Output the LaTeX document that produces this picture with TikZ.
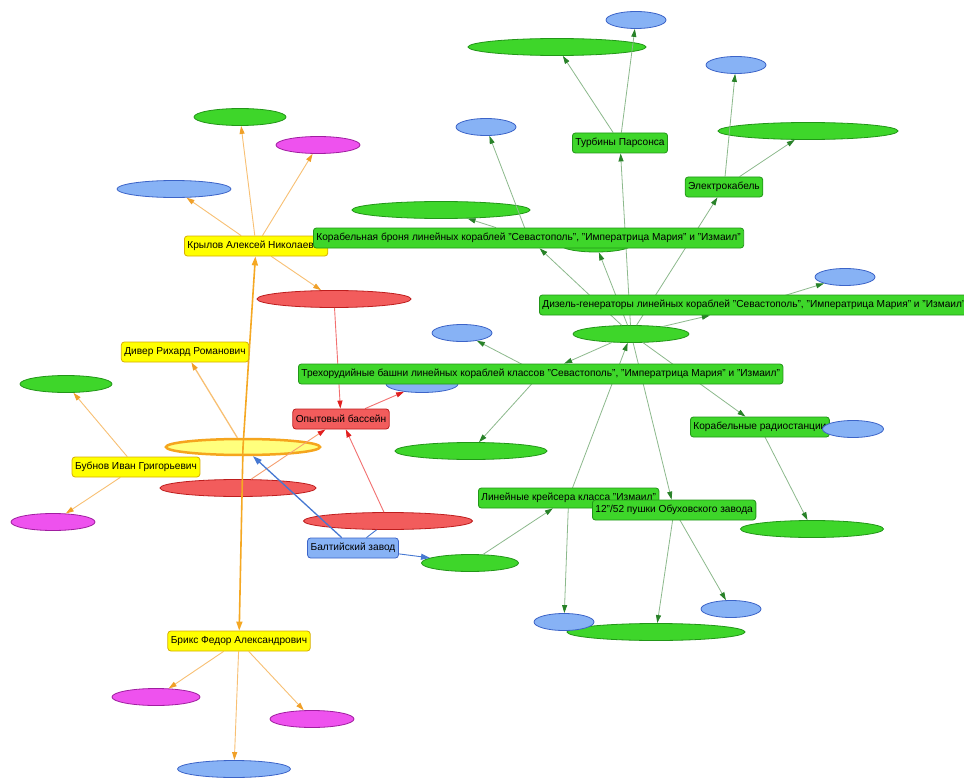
\documentclass[tikz,border=0pt]{standalone}
\usepackage{fontspec}
\setmainfont{Liberation Sans}
\usetikzlibrary{shapes.geometric,arrows.meta}
\pgfdeclarelayer{bg}
\pgfdeclarelayer{edges}
\pgfdeclarelayer{top}
\pgfsetlayers{bg,edges,main,top}
\definecolor{gfill}{RGB}{62,214,42}
\definecolor{gdraw}{RGB}{34,150,24}
\definecolor{bfill}{RGB}{135,178,245}
\definecolor{bdraw}{RGB}{60,100,200}
\definecolor{mfill}{RGB}{238,82,238}
\definecolor{mdraw}{RGB}{160,30,160}
\definecolor{rfill}{RGB}{242,92,92}
\definecolor{rdraw}{RGB}{190,30,30}
\definecolor{yfill}{RGB}{255,255,0}
\definecolor{ydraw}{RGB}{215,175,0}
\definecolor{ylfill}{RGB}{255,255,125}
\definecolor{ylborder}{RGB}{245,165,30}
\definecolor{gedge}{RGB}{140,185,140}
\definecolor{garrow}{RGB}{40,130,40}
\definecolor{oedge}{RGB}{248,192,115}
\definecolor{oarrow}{RGB}{240,160,40}
\definecolor{othick}{RGB}{245,168,35}
\definecolor{redge}{RGB}{242,112,112}
\definecolor{rarrow}{RGB}{225,30,30}
\definecolor{bedge}{RGB}{70,120,210}
\tikzset{
  ell/.style={ellipse, draw, line width=0.8pt, inner sep=0pt, minimum height=17pt},
  gell/.style={ell, fill=gfill, draw=gdraw},
  bell/.style={ell, fill=bfill, draw=bdraw},
  mell/.style={ell, fill=mfill, draw=mdraw},
  rell/.style={ell, fill=rfill, draw=rdraw},
  yell/.style={ell, fill=ylfill, draw=ylborder, line width=2.5pt, minimum height=16pt},
  lab/.style={rounded corners=3pt, draw, line width=0.8pt, inner xsep=3pt, inner ysep=0pt,
              minimum height=20pt, font=\fontsize{10.15}{12}\selectfont, text=black},
  glab/.style={lab, fill=gfill, draw=gdraw},
  ylab/.style={lab, fill=yfill, draw=ydraw},
  rlab/.style={lab, fill=rfill, draw=rdraw},
  blab/.style={lab, fill=bfill, draw=bdraw},
  ge/.style={draw=gedge, line width=0.8pt, -{Triangle[length=8pt,width=5pt,color=garrow]}},
  oe/.style={draw=oedge, line width=0.9pt, -{Triangle[length=8pt,width=5pt,color=oarrow]}},
  ote/.style={draw=othick, line width=1.6pt, -{Triangle[length=9pt,width=6pt,color=othick]}},
  re/.style={draw=redge, line width=0.9pt, -{Triangle[length=8pt,width=5pt,color=rarrow]}},
  be/.style={draw=bedge, line width=1.3pt, -{Triangle[length=9pt,width=6pt,color=bedge]}},
}
\begin{document}
\begin{tikzpicture}[x=1pt,y=-1pt]
\useasboundingbox (0,0) rectangle (964,781);
\begin{pgfonlayer}{bg}
  \fill[white] (0,0) rectangle (964,781);
  \node[gell, minimum width=178pt] (g1) at (557,47) {};
  \node[gell, minimum width=180pt] (g2) at (808,131) {};
  \node[gell, minimum width=178pt] (g3) at (441,210) {};
  \node[gell, minimum width=116pt] (hub) at (631,334) {};
  \node[gell, minimum width=152pt] (g5) at (471,451) {};
  \node[gell, minimum width=97pt] (g6) at (470,563) {};
  \node[gell, minimum width=143pt] (g7) at (812,529) {};
  \node[gell, minimum width=178pt] (g8) at (656,632) {};
  \node[gell, minimum width=92pt] (g9) at (66,384) {};
  \node[gell, minimum width=92pt] (g10) at (240,117) {};
  \node[gell, minimum width=70pt, minimum height=14pt] (gh) at (596,245) {};
  \node[bell, minimum width=60pt] (b1) at (636,20) {};
  \node[bell, minimum width=60pt] (b2) at (736,65) {};
  \node[bell, minimum width=60pt] (b3) at (486,127) {};
  \node[bell, minimum width=60pt] (b4) at (845,277) {};
  \node[bell, minimum width=60pt] (b5) at (462,333) {};
  \node[bell, minimum width=72pt] (b6) at (422,384) {};
  \node[bell, minimum width=60pt] (b8) at (564,622) {};
  \node[bell, minimum width=60pt] (b9) at (731,609) {};
  \node[bell, minimum width=114pt] (b10) at (174,189) {};
  \node[bell, minimum width=113pt] (b11) at (234,769) {};
  \node[mell, minimum width=84pt] (m1) at (318,145) {};
  \node[mell, minimum width=84pt] (m2) at (53,522) {};
  \node[mell, minimum width=88pt] (m3) at (156,697) {};
  \node[mell, minimum width=84pt] (m4) at (312,719) {};
  \node[rell, minimum width=154pt] (r1) at (334,299) {};
  \node[rell, minimum width=156pt] (r2) at (238,488) {};
  \node[rell, minimum width=169pt] (r3) at (388,521) {};
  \node[yell, minimum width=154pt] (y1) at (243,447) {};
\end{pgfonlayer}

% labels
\node[ylab, anchor=west] (kr) at (184,246) {Крылов Алексей Николаевич};
\node[glab, anchor=west] (br) at (313,238) {Корабельная броня линейных кораблей "Севастополь", "Императрица Мария" и "Измаил"};
\node[glab, anchor=west] (diz) at (539,305) {Дизель-генераторы линейных кораблей "Севастополь", "Императрица Мария" и "Измаил"};
\node[glab] (turb) at (620,143) {Турбины Парсонса};
\node[glab] (elk) at (724,187) {Электрокабель};
\node[glab, anchor=west] (tri) at (298,374) {Трехорудийные башни линейных кораблей классов "Севастополь", "Императрица Мария" и "Измаил"};
\node[glab, anchor=west] (rad) at (690,427) {Корабельные радиостанции};
\node[glab, anchor=west] (lin) at (478,498) {Линейные крейсера класса "Измаил"};
\node[glab, anchor=west] (gun) at (592,510) {12"/52 пушки Обуховского завода};
\node[rlab] (opyt) at (341,419) {Опытовый бассейн};
\node[blab] (balt) at (353,548) {Балтийский завод};
\node[ylab] (div) at (185,352) {Дивер Рихард Романович};
\node[ylab] (bub) at (136,467) {Бубнов Иван Григорьевич};
\node[ylab] (brx) at (239,641) {Брикс Федор Александрович};

\begin{pgfonlayer}{top}
  \node[bell, minimum width=61pt] (b7) at (853,429) {};
\end{pgfonlayer}

\begin{pgfonlayer}{edges}
  % green
  \draw[ge] (hub) -- (turb);
  \draw[ge] (turb) -- (g1);
  \draw[ge] (turb) -- (b1);
  \draw[ge] (hub) -- (elk);
  \draw[ge] (elk) -- (g2);
  \draw[ge] (elk) -- (b2);
  \draw[ge] (hub) -- (br);
  \draw[ge] (hub) -- (gh);
  \draw[ge] (br) -- (g3);
  \draw[ge] (br.center) -- (b3);
  \draw[ge] (diz.center) -- (b4);
  \draw[ge] (hub) -- (diz);
  \draw[ge] (tri.center) -- (b5);
  \draw[ge] (hub) -- (tri);
  \draw[ge] (tri.center) -- (g5);
  \draw[ge] (hub) -- (rad);
  \draw[ge] (rad.center) -- (g7);
  \draw[ge] (lin.center) -- (hub);
  \draw[ge] (lin.center) -- (b8);
  \draw[ge] (hub) -- (gun);
  \draw[ge] (gun.center) -- (g8);
  \draw[ge] (gun.center) -- (b9);
  \draw[ge] (g6) -- (lin);
  % orange
  \draw[oe] (kr) -- (g10);
  \draw[oe] (kr) -- (m1);
  \draw[oe] (kr) -- (b10);
  \draw[oe] (kr) -- (r1);
  \draw[ote] (y1.center) -- (kr);
  \draw[ote] (y1.center) -- (brx);
  \draw[oe, line width=1.3pt] (y1) -- (div);
  \draw[oe] (bub) -- (g9);
  \draw[oe] (bub) -- (m2);
  \draw[oe] (brx) -- (m3);
  \draw[oe] (brx) -- (m4);
  \draw[oe] (brx) -- (b11);
  % red
  \draw[re] (r1) -- (opyt);
  \draw[re] (r3) -- (opyt);
  \draw[re] (opyt) -- (b6);
  \draw[re, draw=oedge!60!redge] (r2) -- (opyt);
  % blue
  \draw[be] (balt) -- (y1);
  \draw[be, line width=0.9pt] (balt) -- (g6);
  \draw[draw=bedge, line width=0.9pt] (balt) -- (r3);
\end{pgfonlayer}
\end{tikzpicture}
\end{document}
